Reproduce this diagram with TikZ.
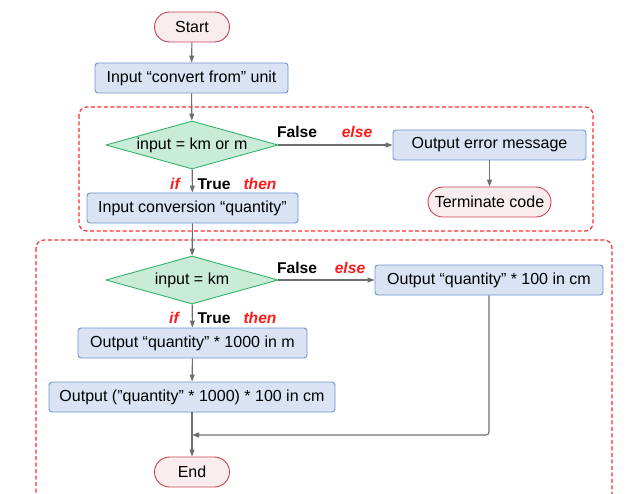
\documentclass[tikz,border=0pt]{standalone}
\usepackage{fontspec}
\setmainfont{Liberation Sans}
\usetikzlibrary{shapes.geometric,arrows.meta}
\definecolor{procfill}{HTML}{D9E3F4}
\definecolor{procdraw}{HTML}{6F93CF}
\definecolor{decfill}{HTML}{C9ECD8}
\definecolor{decdraw}{HTML}{33B36B}
\definecolor{termfill}{HTML}{F9ECEC}
\definecolor{termdraw}{HTML}{C64452}
\definecolor{arrgray}{HTML}{6E6E6E}
\definecolor{grpred}{HTML}{FF2A2A}
\definecolor{lblred}{HTML}{FF1A1A}
\tikzset{
  every node/.style={font=\fontsize{16}{19}\selectfont, text=black},
  procbox/.style={draw=procdraw, fill=procfill, line width=0.9pt, rounded corners=3pt,
    minimum height=30pt, inner sep=0pt},
  termbox/.style={draw=termdraw, fill=termfill, line width=0.9pt, rounded corners=15pt,
    minimum height=30pt, inner sep=0pt},
  decbox/.style={diamond, draw=decdraw, fill=decfill, line width=0.9pt, shape aspect=3.6,
    inner sep=0pt, minimum width=172pt, minimum height=48pt},
  arr/.style={draw=arrgray, line width=1.1pt, -{Triangle[length=7pt,width=5pt]}},
  grp/.style={draw=grpred, line width=1.2pt, dash pattern=on 4pt off 2.5pt, rounded corners=8pt},
  lblk/.style={font=\fontsize{15.6}{18}\selectfont\bfseries, inner sep=0pt},
  lred/.style={font=\fontsize{15.6}{18}\selectfont\bfseries\itshape, text=lblred, inner sep=0pt},
}
\begin{document}
\begin{tikzpicture}[x=1pt,y=-1pt]
\useasboundingbox (0,0) rectangle (628,494);
% groups
\draw[grp] (79,107) rectangle (593,231);
\draw[grp] (36,240) rectangle (612,510);
% nodes
\node[termbox, minimum width=75pt] (start) at (192,27) {Start};
\node[procbox, minimum width=193pt] (in1) at (191.5,78) {Input “convert from” unit};
\node[decbox] (d1) at (192,145) {input = km or m};
\node[procbox, minimum width=193pt] (err) at (489.5,145) {Output error message};
\node[termbox, minimum width=123pt] (term) at (489.5,202) {Terminate code};
\node[procbox, minimum width=211pt] (in2) at (192.5,208) {Input conversion “quantity”};
\node[decbox] (d2) at (192,280) {input = km};
\node[procbox, minimum width=228pt] (o100) at (489,280) {Output “quantity” * 100 in cm};
\node[procbox, minimum width=229pt] (o1000) at (192.5,343) {Output “quantity” * 1000 in m};
\node[procbox, minimum width=286pt] (o2) at (192,397) {Output (”quantity” * 1000) * 100 in cm};
\node[termbox, minimum width=75pt] (end) at (192,472) {End};
\coordinate (merge) at (192,435);
% connectors
\draw[arr] (start) -- (in1);
\draw[arr] (in1) -- (d1);
\draw[arr] (d1) -- (err);
\draw[arr] (err) -- (term);
\draw[arr] (d1) -- (in2);
\draw[arr] (in2) -- (d2);
\draw[arr] (d2) -- (o100);
\draw[arr] (d2) -- (o1000);
\draw[arr] (o1000) -- (o2);
\draw[arr] (o2) -- (end);
\draw[arr, rounded corners=3pt] (o100.south) |- (merge);
% labels
\node[lblk] (f1) at (297,132) {False};
\node[lred] (e1) at (357,132) {else};
\node[lred] (i1) at (175,184) {if};
\node[lblk] (t1) at (214,184) {True};
\node[lred] (th1) at (260,184) {then};
\node[lblk] (f2) at (297,268) {False};
\node[lred] (e2) at (350,268) {else};
\node[lred] (i2) at (174,318) {if};
\node[lblk] (t2) at (214,318) {True};
\node[lred] (th2) at (260,318) {then};
\end{tikzpicture}
\end{document}
